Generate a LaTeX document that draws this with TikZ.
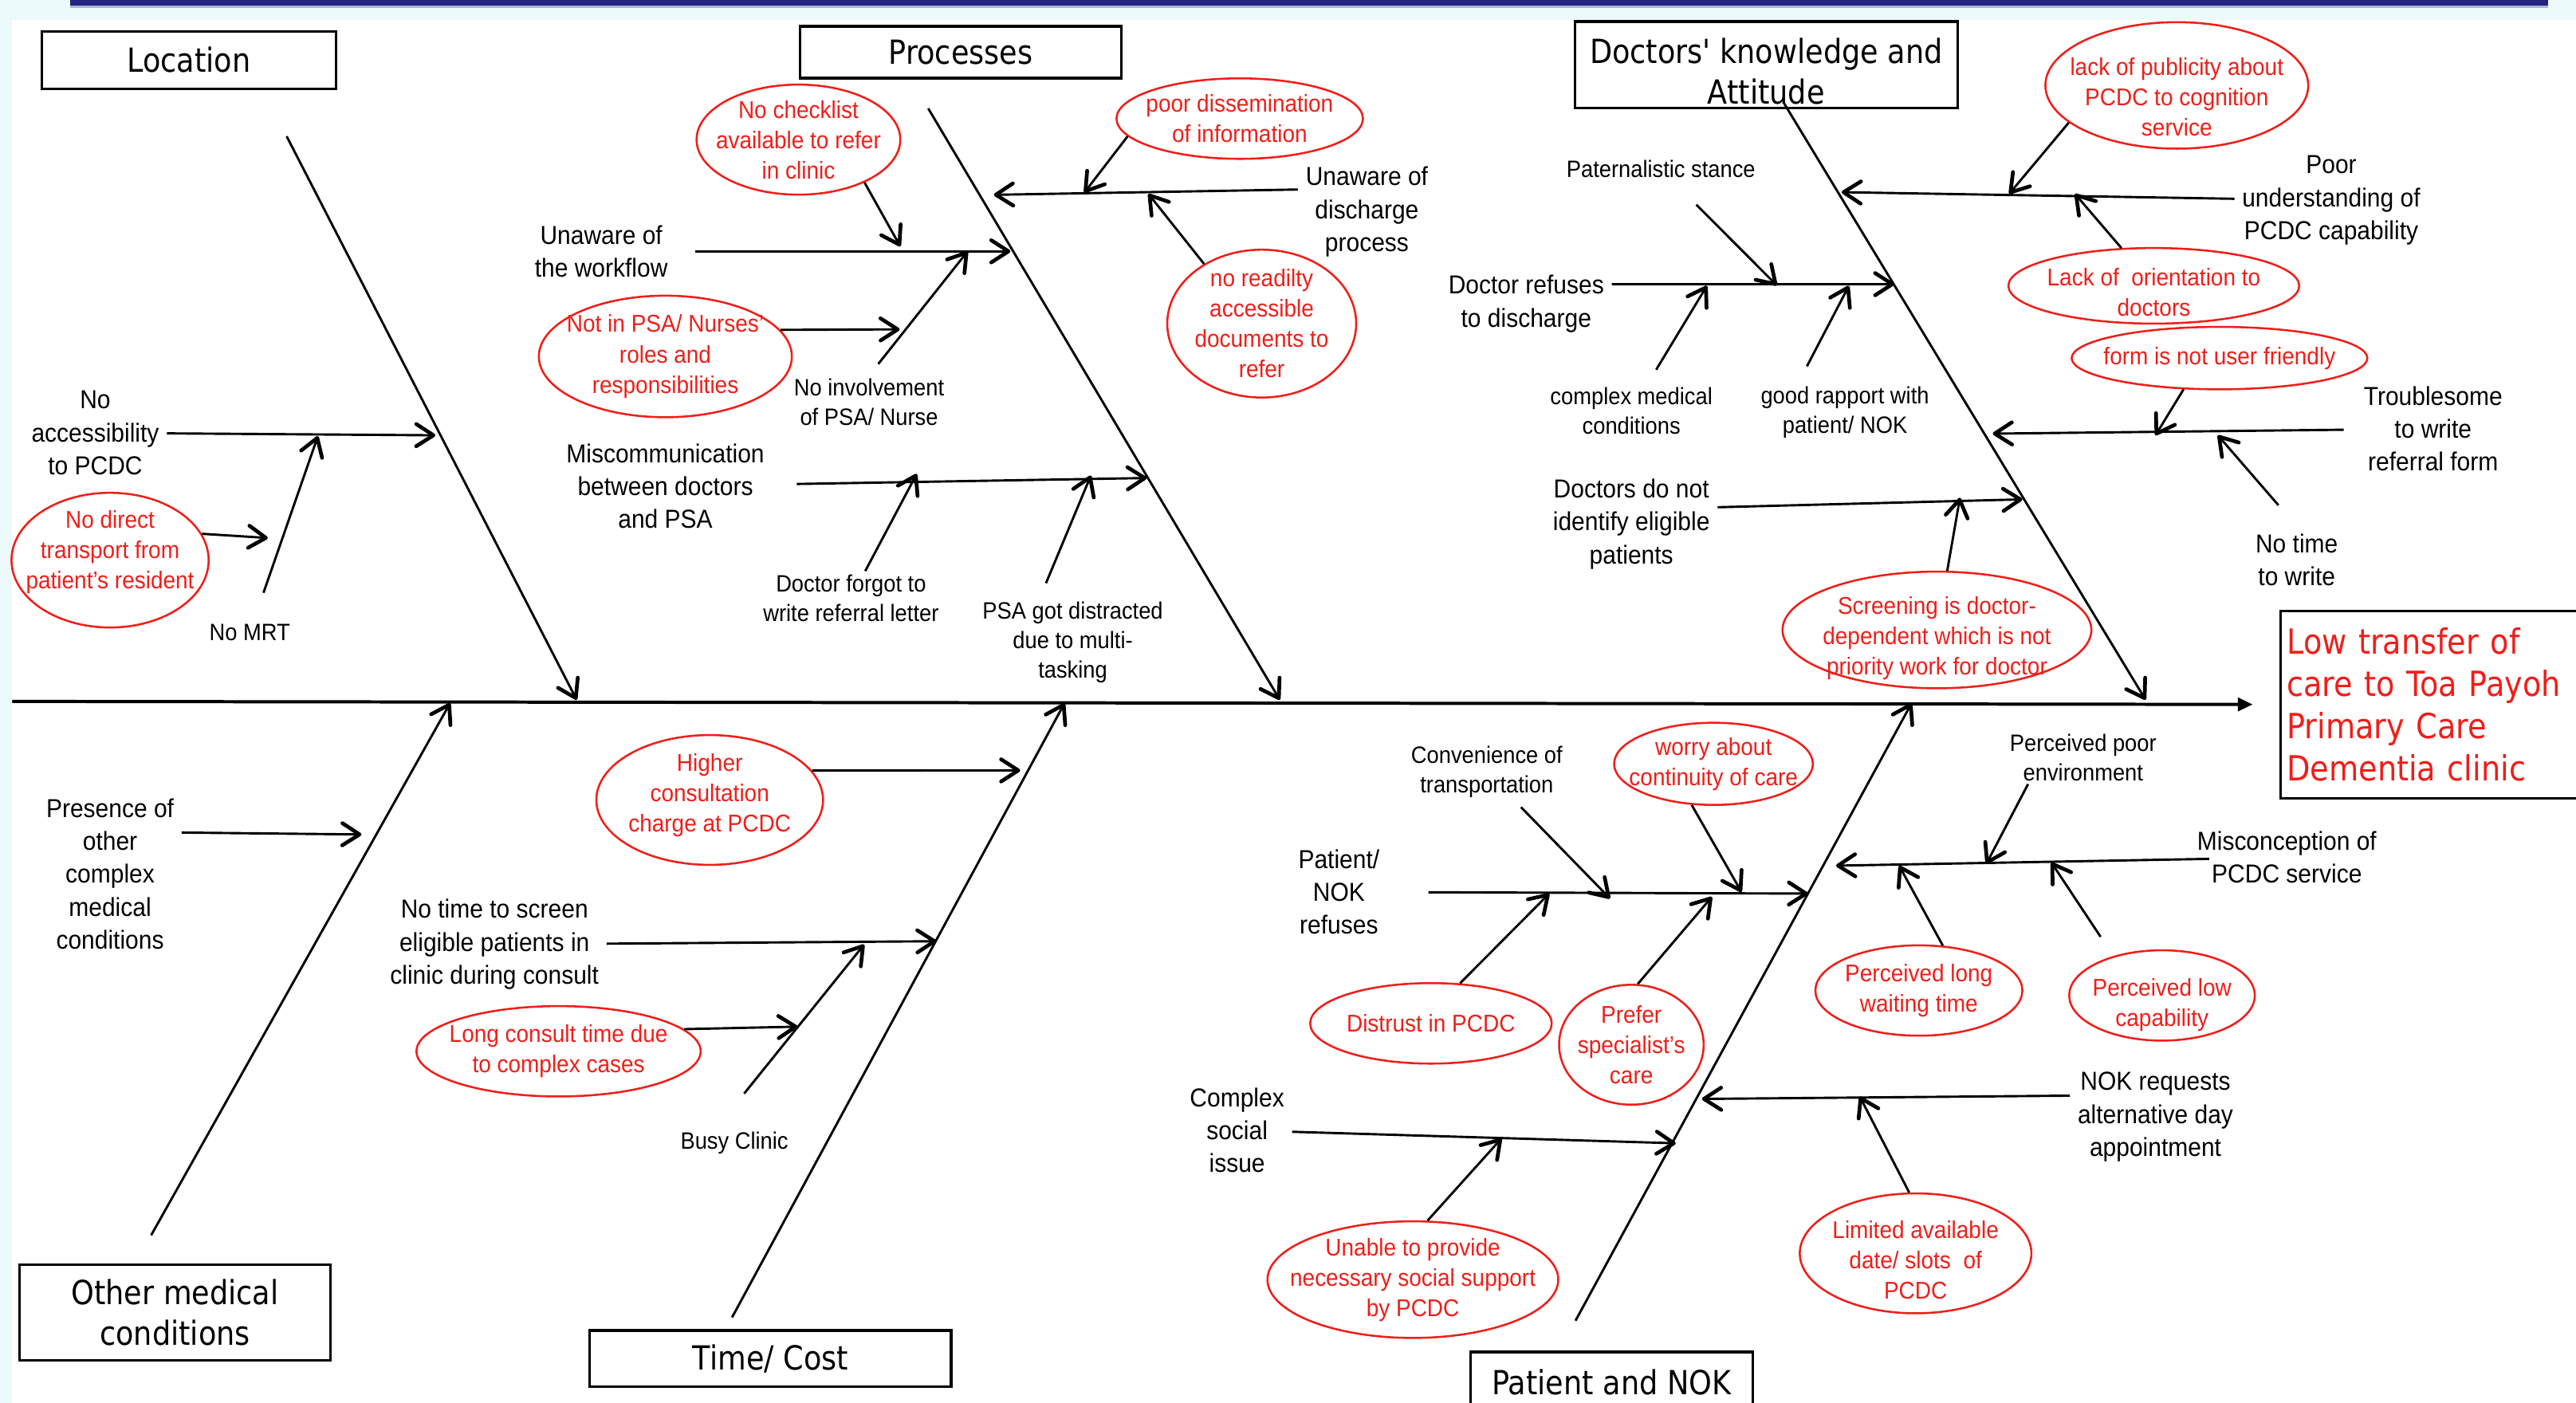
\documentclass[tikz,border=0pt]{standalone}
\usepackage{fontspec}
\setmainfont{Liberation Sans}[FakeStretch=0.92]
\newfontfamily\titlefont{DejaVu Sans}[FakeStretch=0.88]
\usepackage{tikz}
\usetikzlibrary{arrows.meta,shapes.geometric}
\definecolor{causered}{RGB}{240,30,25}
\definecolor{slidecyan}{RGB}{236,250,252}
\definecolor{slidenavy}{RGB}{36,36,128}
% push text down (tall first line) or up (deep last line) inside a node
\newcommand{\padtop}[1]{\rule{0pt}{#1}}
\newcommand{\padbot}[1]{\rule[-#1]{0pt}{0pt}}
\tikzset{
  arr/.style={-{Straight Barb[length=2.1mm,width=2.7mm,line width=1.3pt,round]}, line width=0.8pt},
  spine/.style={-{Triangle[length=1.8mm,width=1.6mm]}, line width=1.1pt},
  cat/.style={draw, line width=0.9pt, align=center, inner sep=0pt,
    font=\titlefont\fontsize{11.5}{14.2}\selectfont},
  lbl/.style={align=center, inner sep=2.5pt, font=\fontsize{9}{11.4}\selectfont},
  note/.style={align=center, inner sep=1pt, font=\fontsize{8.2}{10.2}\selectfont},
  cause/.style={ellipse, draw=causered, text=causered, line width=0.7pt,
    align=center, inner xsep=-30mm, inner ysep=-15mm,
    font=\fontsize{8.4}{10.5}\selectfont}
}

\begin{document}
\begin{tikzpicture}[x=0.2mm, y=-0.2mm]
\useasboundingbox (0,0) rectangle (1568,854);
% slide background
\fill[slidecyan] (0,0) rectangle (1568,854);
\fill[white] (7.5,12) rectangle (1568,854);
\fill[slidenavy] (42.5,0) rectangle (1551,3.4);
\fill[slidenavy!35] (42.5,3.4) rectangle (1551,5);

% effect and spine
\node[draw, line width=0.9pt, text=causered, align=left, text width=36.8mm,
  minimum height=22.8mm, inner sep=0.8mm,
  font=\titlefont\fontsize{12}{14.6}\selectfont] (effect) at (1484,429)
  {Low transfer of\\care to Toa Payoh\\Primary Care\\Dementia clinic};
\coordinate (spL) at (7.5,427);
\draw[spine, shorten >=3.2mm] (spL) -- (effect);

% categories
\node[cat, minimum width=35.8mm, minimum height=7mm] (loc) at (115,36.5) {Location};
\node[cat, minimum width=39.1mm, minimum height=6.3mm] (proc) at (584.8,31.8) {Processes};
\node[cat, minimum width=46.6mm, minimum height=10.5mm] (doc) at (1075.1,39.4) {\padtop{13.3pt}Doctors' knowledge and\\Attitude};
\node[cat, minimum width=37.8mm, minimum height=11.6mm] (oth) at (106.5,799) {Other medical\\conditions};
\node[cat, minimum width=44mm, minimum height=6.8mm] (tc) at (469,827) {Time/ Cost};
\node[cat, minimum width=34.4mm, minimum height=7.4mm] (pat) at (981,841.5) {Patient and NOK};

% main bones
\coordinate (lT) at (174.5,83);
\coordinate (lS) at (351,426);
\draw[arr] (lT) -- (lS);
\coordinate (pT) at (565,66);
\coordinate (pS) at (779,426);
\draw[arr] (pT) -- (pS);
\coordinate (dT) at (1086,63);
\coordinate (dS) at (1306,426);
\draw[arr] (dT) -- (dS);
\coordinate (oB) at (92,752);
\coordinate (oS) at (274,428);
\draw[arr] (oB) -- (oS);
\coordinate (tB) at (445.6,802);
\coordinate (tS) at (648,428);
\draw[arr] (tB) -- (tS);
\coordinate (nB) at (959,804);
\coordinate (nS) at (1163.6,428);
\draw[arr] (nB) -- (nS);

% Location
\node[lbl] (acc) at (58,263.5) {No\\accessibility\\to PCDC};
\coordinate (acc1) at (265,265);
\draw[arr] (acc) -- (acc1);
\node[note] (mrt) at (152,385) {No MRT};
\coordinate (mrt1) at (193.5,265.5);
\draw[arr, shorten <=3.6mm] (mrt) -- (mrt1);
\node[cause, minimum width=24mm, minimum height=16.4mm] (trn) at (67,341) {No direct\\transport from\\patient's resident\padbot{7.5pt}};
\coordinate (trn1) at (163,327.5);
\draw[arr] (trn.16) -- (trn1);

% Processes
\node[lbl] (wfl) at (366,153) {Unaware of\\the workflow};
\coordinate (wfl1) at (615,153);
\draw[arr, shorten <=2.4mm] (wfl) -- (wfl1);
\node[cause, minimum width=24.8mm, minimum height=13.4mm] (chk) at (486,85) {No checklist\\available to refer\\in clinic};
\coordinate (chk1) at (548,150);
\draw[arr] (chk.-33) -- (chk1);
\node[cause, minimum width=30.8mm, minimum height=14.8mm] (nps) at (405,217) {Not in PSA/ Nurses'\\roles and\\responsibilities};
\coordinate (nps1) at (547.6,200.5);
\draw[arr] (nps.13) -- (nps1);
\node[note] (inv) at (529,245) {No involvement\\of PSA/ Nurse};
\coordinate (inv1) at (589,153);
\draw[arr, shorten <=1.8mm] (inv.north) -- (inv1);
\node[lbl] (mis) at (405,296) {Miscommunication\\between doctors\\and PSA};
\coordinate (mis1) at (698,291);
\draw[arr, shorten <=3mm] (mis) -- (mis1);
\node[note] (fgt) at (518,364) {Doctor forgot to\\write referral letter};
\coordinate (fgt1) at (558,288.5);
\draw[arr] (fgt) -- (fgt1);
\node[note] (dis) at (653,391) {PSA got distracted\\due to multi-\\tasking};
\coordinate (dis1) at (664,289.5);
\draw[arr, shorten <=2mm] (dis.127) -- (dis1);
\node[cause, minimum width=30mm, minimum height=9.8mm] (dsm) at (754.6,72.2) {poor dissemination\\of information};
\coordinate (dsm1) at (660,117.3);
\draw[arr] (dsm.189) -- (dsm1);
\node[lbl] (udp) at (832,129) {Unaware of\\discharge\\process};
\coordinate (udp1) at (605,118.6);
\draw[arr] (udp.162) -- (udp1);
\node[cause, minimum width=23mm, minimum height=18mm] (acd) at (768,197) {no readilty\\accessible\\documents to\\refer};
\coordinate (acd1) at (699,118);
\draw[arr] (acd.134) -- (acd1);

% Doctors' knowledge and Attitude
\node[note] (pts) at (1011,103) {Paternalistic stance};
\coordinate (pts1) at (1081.6,173.8);
\draw[arr, shorten <=4mm] (pts) -- (pts1);
\node[lbl] (dref) at (929,185) {Doctor refuses\\to discharge};
\coordinate (dref1) at (1153,173);
\draw[arr] (dref.13) -- (dref1);
\node[note] (cmc) at (993,250) {complex medical\\conditions};
\coordinate (cmc1) at (1039,174);
\draw[arr, shorten <=2mm] (cmc) -- (cmc1);
\node[note] (grp) at (1123,251) {good rapport with\\patient/ NOK};
\coordinate (grp1) at (1125.4,174);
\draw[arr, shorten <=2.3mm] (grp.148) -- (grp1);
\node[lbl] (dni) at (993,319) {Doctors do not\\identify eligible\\patients};
\coordinate (dni1) at (1231,304);
\draw[arr] (dni.11) -- (dni1);
\node[cause, minimum width=37.6mm, minimum height=14.2mm] (scr) at (1179,383.5) {\padtop{11.7pt}Screening is doctor-\\dependent which is not\\priority work for doctor};
\coordinate (scr1) at (1193,303);
\draw[arr] (scr) -- (scr1);
\node[cause, minimum width=32mm, minimum height=15.4mm] (pub) at (1325,52) {\padtop{14pt}lack of publicity about\\PCDC to cognition\\service};
\coordinate (pub1) at (1223,118);
\draw[arr] (pub.199) -- (pub1);
\node[lbl] (pud) at (1419,122) {Poor\\understanding of\\PCDC capability};
\coordinate (pud1) at (1121,117);
\draw[arr] (pud) -- (pud1);
\node[cause, minimum width=35.4mm, minimum height=9.2mm] (ori) at (1311,174) {\padtop{10.6pt}Lack of~ orientation to\\doctors};
\coordinate (ori1) at (1263,118);
\draw[arr] (ori) -- (ori1);
\node[cause, minimum width=36mm, minimum height=7.6mm] (frm) at (1351,218) {form is not user friendly};
\coordinate (frm1) at (1312,265);
\draw[arr] (frm.221) -- (frm1);
\node[lbl] (tbl) at (1481,261) {Troublesome\\to write\\referral form};
\coordinate (tbl1) at (1213,264);
\draw[arr, shorten <=1.5mm] (tbl) -- (tbl1);
\node[lbl] (ntw) at (1398,341) {No time\\to write};
\coordinate (ntw1) at (1350,265);
\draw[arr, shorten <=3.4mm] (ntw.north) -- (ntw1);

% Other medical conditions
\node[lbl] (pres) at (67,532) {Presence of\\other\\complex\\medical\\conditions};
\coordinate (pres1) at (220,508);
\draw[arr] (pres.30) -- (pres1);

% Time/ Cost
\node[cause, minimum width=27.6mm, minimum height=15.8mm] (hcc) at (432,487) {Higher\\consultation\\charge at PCDC\padbot{5.2pt}};
\coordinate (hcc1) at (621,469);
\draw[arr] (hcc.16) -- (hcc1);
\node[lbl] (nts) at (301,575) {No time to screen\\eligible patients in\\clinic during consult};
\coordinate (nts1) at (570,573);
\draw[arr] (nts) -- (nts1);
\node[cause, minimum width=34.6mm, minimum height=11mm] (lct) at (340,640) {Long consult time due\\to complex cases};
\coordinate (lct1) at (485.5,625);
\draw[arr] (lct.10) -- (lct1);
\node[note] (bsy) at (447,696) {Busy Clinic};
\coordinate (bsy1) at (526,575);
\draw[arr, shorten <=5.5mm] (bsy.142) -- (bsy1);

% Patient and NOK
\node[lbl] (pnr) at (815,543) {Patient/\\NOK\\refuses};
\coordinate (pnr1) at (1100.5,544);
\draw[arr, shorten <=5mm] (pnr) -- (pnr1);
\node[note] (cvt) at (905,470) {Convenience of\\transportation};
\coordinate (cvt1) at (980,547);
\draw[arr, shorten <=1mm] (cvt) -- (cvt1);
\node[cause, minimum width=24.2mm, minimum height=10mm] (wac) at (1043,465) {worry about\\continuity of care};
\coordinate (wac1) at (1060,543);
\draw[arr] (wac.242) -- (wac1);
\node[cause, minimum width=29.4mm, minimum height=9.8mm] (dtr) at (871,623) {Distrust in PCDC};
\coordinate (dtr1) at (943,544);
\draw[arr] (dtr.54) -- (dtr1);
\node[cause, minimum width=17.6mm, minimum height=14.6mm] (psc) at (993,636) {Prefer\\specialist's\\care};
\coordinate (psc1) at (1042,546);
\draw[arr] (psc.84) -- (psc1);
\node[lbl] (csi) at (753,688) {Complex\\social\\issue};
\coordinate (csi1) at (1020,696);
\draw[arr] (csi) -- (csi1);
\node[cause, minimum width=35.4mm, minimum height=14.2mm] (usp) at (860,779) {Unable to provide\\necessary social support\\by PCDC};
\coordinate (usp1) at (914,693);
\draw[arr] (usp.76) -- (usp1);
\node[lbl] (nokr) at (1312,680) {NOK requests\\alternative day\\appointment};
\coordinate (nokr1) at (1036,669);
\draw[arr] (nokr.166) -- (nokr1);
\node[cause, minimum width=28.2mm, minimum height=14.6mm] (lim) at (1166,763) {\padtop{10.6pt}Limited available\\date/ slots~ of\\PCDC};
\coordinate (lim1) at (1132,667.5);
\draw[arr] (lim.96) -- (lim1);
\node[lbl] (mcs) at (1392,522) {Misconception of\\PCDC service};
\coordinate (mcs1) at (1117.6,527);
\draw[arr, shorten <=-2.4mm] (mcs) -- (mcs1);
\node[note] (ppe) at (1268,461) {Perceived poor\\environment};
\coordinate (ppe1) at (1209,526);
\draw[arr] (ppe.206) -- (ppe1);
\node[cause, minimum width=25.2mm, minimum height=11mm] (plw) at (1168,603) {Perceived long\\waiting time};
\coordinate (plw1) at (1156,527);
\draw[arr] (plw.62) -- (plw1);
\node[cause, minimum width=22.6mm, minimum height=11mm] (plc) at (1316,606) {\padtop{12.8pt}Perceived low\\capability};
\coordinate (plc1) at (1248.6,525);
\draw[arr, shorten <=2.8mm] (plc.141) -- (plc1);
\end{tikzpicture}
\end{document}
